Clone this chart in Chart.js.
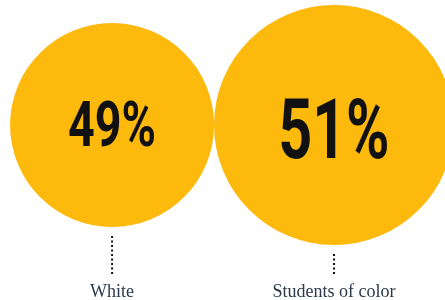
<!DOCTYPE html>
<html><head><meta charset="utf-8">
<script src="https://cdn.jsdelivr.net/npm/chart.js@4"></script>
<style>html,body{margin:0;padding:0;background:#fff}#wrap{width:445px;height:300px;position:relative}</style>
</head><body><div id="wrap"><canvas id="c"></canvas></div>
<script>
// ---- data ----
const categories = ['White', 'Students of color'];
const shares = [49, 51];
const valueLabels = shares.map(v => v + '%');

// ---- styles ----
const bubbleColor = '#FDBA0C';
const bubbleRadius = [102, 120];
const valueStyle = [
  { size: 63, baseline: 21, sx: 0.74 },
  { size: 84, baseline: 33, sx: 0.70 }
];

const decorPlugin = {
  id: 'decor',
  afterDatasetsDraw(chart) {
    const ctx = chart.ctx;
    const meta = chart.getDatasetMeta(0);
    meta.data.forEach((el, i) => {
      const r = el.options.radius;
      const st = valueStyle[i];
      ctx.save();
      ctx.translate(el.x, el.y + st.baseline);
      ctx.scale(st.sx, 1);
      ctx.font = 'bold ' + st.size + 'px Roboto, "Liberation Sans", sans-serif';
      ctx.fillStyle = '#111111';
      ctx.textAlign = 'center';
      ctx.textBaseline = 'alphabetic';
      ctx.fillText(valueLabels[i], 0, 0);
      ctx.restore();
      ctx.save();
      ctx.strokeStyle = '#111111';
      ctx.lineWidth = 2;
      ctx.setLineDash([2, 2.5]);
      ctx.beginPath();
      ctx.moveTo(el.x, el.y + r + 9);
      ctx.lineTo(el.x, 276);
      ctx.stroke();
      ctx.restore();
      ctx.save();
      ctx.font = '18px "Liberation Serif", "Times New Roman", serif';
      ctx.fillStyle = '#2b3a4a';
      ctx.textAlign = 'center';
      ctx.textBaseline = 'alphabetic';
      ctx.fillText(categories[i], el.x, 297);
      ctx.restore();
    });
  }
};

new Chart(document.getElementById('c'), {
  type: 'bubble',
  data: {
    labels: categories,
    datasets: [{
      data: shares.map((v, i) => ({ x: i, y: 0 })),
      backgroundColor: bubbleColor,
      borderWidth: 0,
      radius: ctx => bubbleRadius[ctx.dataIndex],
      hoverRadius: 0,
      clip: false
    }]
  },
  options: {
    responsive: true,
    maintainAspectRatio: false,
    animation: false,
    events: [],
    layout: { autoPadding: false, padding: { left: 0, right: 0, top: 0, bottom: 50 } },
    plugins: { legend: { display: false }, tooltip: { enabled: false } },
    scales: {
      x: { type: 'linear', display: false, min: -0.505, max: 1.5 },
      y: { type: 'linear', display: false, min: -1, max: 1 }
    }
  },
  plugins: [decorPlugin]
});
</script>
</body></html>
